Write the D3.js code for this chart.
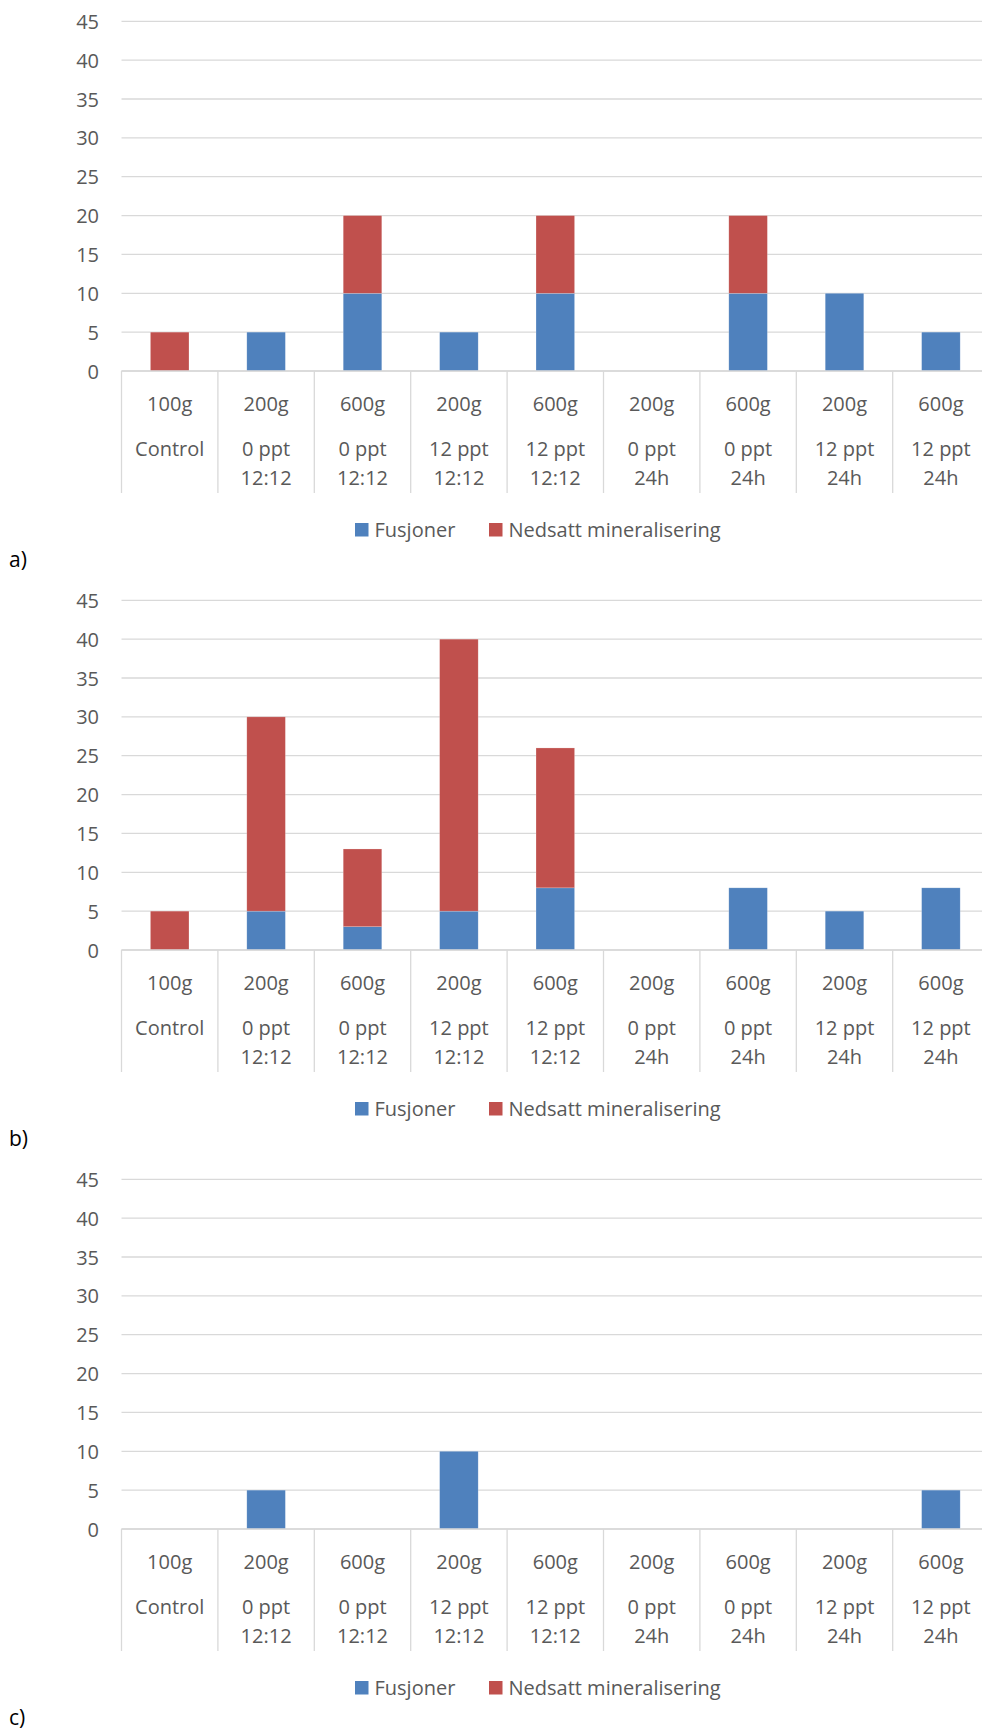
<!DOCTYPE html>
<html>
<head>
<meta charset="utf-8">
<script src="https://cdn.jsdelivr.net/npm/d3@7"></script>
<style>
  body { margin: 0; background: #fff; }
  svg { display: block; }
  text { font-family: "Open Sans", sans-serif; }
</style>
</head>
<body>
<svg id="chart" width="982" height="1730"></svg>
<script>
// ---- data ----
const categories = ["c1","c2","c3","c4","c5","c6","c7","c8","c9"];
const weightLabels = ["100g","200g","600g","200g","600g","200g","600g","200g","600g"];
const groupLabels1 = ["Control","0 ppt","0 ppt","12 ppt","12 ppt","0 ppt","0 ppt","12 ppt","12 ppt"];
const groupLabels2 = ["","12:12","12:12","12:12","12:12","24h","24h","24h","24h"];
const seriesNames = ["Fusjoner","Nedsatt mineralisering"];
const seriesColors = ["#4F81BD","#C0504D"];
const yTicks = [0,5,10,15,20,25,30,35,40,45];
const panelLabels = ["a)","b)","c)"];

const fusjonerA = [0,5,10,5,10,0,10,10,5];
const nedsattA  = [5,0,10,0,10,0,10,0,0];
const fusjonerB = [0,5,3,5,8,0,8,5,8];
const nedsattB  = [5,25,10,35,18,0,0,0,0];
const fusjonerC = [0,5,0,10,0,0,0,0,5];
const nedsattC  = [0,0,0,0,0,0,0,0,0];

const panels = [
  {label: panelLabels[0], f: fusjonerA, n: nedsattA},
  {label: panelLabels[1], f: fusjonerB, n: nedsattB},
  {label: panelLabels[2], f: fusjonerC, n: nedsattC}
];

// ---- layout ----
const svg = d3.select("#chart");
const left = 121.5, bandW = 96.4;
const plotH = 349.7;
const textColor = "#595959", gridColor = "#D9D9D9";

const x = d3.scaleBand().domain(categories)
  .range([left, left + bandW * categories.length]).paddingInner(0).paddingOuter(0);

panels.forEach((p, i) => {
  const y0 = 371 + 579 * i;
  const g = svg.append("g");
  const y = d3.scaleLinear().domain([0, 45]).range([y0, y0 - plotH]);

  // gridlines
  g.selectAll("line.grid").data(yTicks).join("line")
    .attr("x1", left).attr("x2", 982)
    .attr("y1", d => y(d)).attr("y2", d => y(d))
    .attr("stroke", gridColor).attr("stroke-width", 1.3);

  // y tick labels via axis
  const yAxis = d3.axisLeft(y).tickValues(yTicks).tickSize(0).tickPadding(0);
  const ya = g.append("g").attr("transform", `translate(99,0)`).call(yAxis);
  ya.select(".domain").remove();
  ya.selectAll("text").attr("fill", textColor).style("font-size", "20px")
    .style("font-family", "'Open Sans', sans-serif").attr("dy", "0.35em").attr("x", 0);

  // stacked bars
  const rows = categories.map((c, k) => ({cat: c, s0: p.f[k], s1: p.n[k]}));
  const stack = d3.stack().keys(["s0","s1"])(rows);
  const bw = x.bandwidth() * 0.4;
  stack.forEach((layer, si) => {
    g.selectAll(null).data(layer.filter(d => d[1] - d[0] > 0)).join("rect")
      .attr("x", d => x(d.data.cat) + (x.bandwidth() - bw) / 2)
      .attr("width", bw)
      .attr("y", d => y(d[1]))
      .attr("height", d => y(d[0]) - y(d[1]))
      .attr("fill", seriesColors[si])
      .attr("stroke", "#fff").attr("stroke-opacity", 0.35).attr("stroke-width", 0.6);
  });

  // category axis line and dividers
  g.append("line").attr("x1", left).attr("x2", 982).attr("y1", y0).attr("y2", y0)
    .attr("stroke", gridColor).attr("stroke-width", 1.3);
  const bounds = categories.map(c => x(c));
  g.selectAll(null).data(bounds).join("line")
    .attr("x1", d => d).attr("x2", d => d)
    .attr("y1", y0).attr("y2", y0 + 122)
    .attr("stroke", gridColor).attr("stroke-width", 1.3);

  // category labels
  const lab = g.selectAll(null).data(categories).join("g")
    .attr("transform", c => `translate(${x(c) + x.bandwidth() / 2},0)`);
  lab.append("text").attr("y", y0 + 33).attr("dy", "0.35em").attr("text-anchor", "middle")
    .attr("fill", textColor).style("font-size", "20px").text((c, k) => weightLabels[k]);
  lab.append("text").attr("y", y0 + 78).attr("dy", "0.35em").attr("text-anchor", "middle")
    .attr("fill", textColor).style("font-size", "20px").text((c, k) => groupLabels1[k]);
  lab.append("text").attr("y", y0 + 107).attr("dy", "0.35em").attr("text-anchor", "middle")
    .attr("fill", textColor).style("font-size", "20px").text((c, k) => groupLabels2[k]);

  // legend
  const ly = y0 + 159;
  const legendX = [355, 489];
  seriesNames.forEach((name, si) => {
    g.append("rect").attr("x", legendX[si]).attr("y", ly - 7).attr("width", 13.5).attr("height", 13.5)
      .attr("fill", seriesColors[si]);
    g.append("text").attr("x", legendX[si] + 19.5).attr("y", ly).attr("dy", "0.35em")
      .attr("fill", textColor).style("font-size", "20px").text(name);
  });

  // panel label
  g.append("text").attr("x", 9).attr("y", y0 + 189).attr("dy", "0.35em")
    .attr("fill", "#000").style("font-size", "21px").text(p.label);
});
</script>
</body>
</html>
